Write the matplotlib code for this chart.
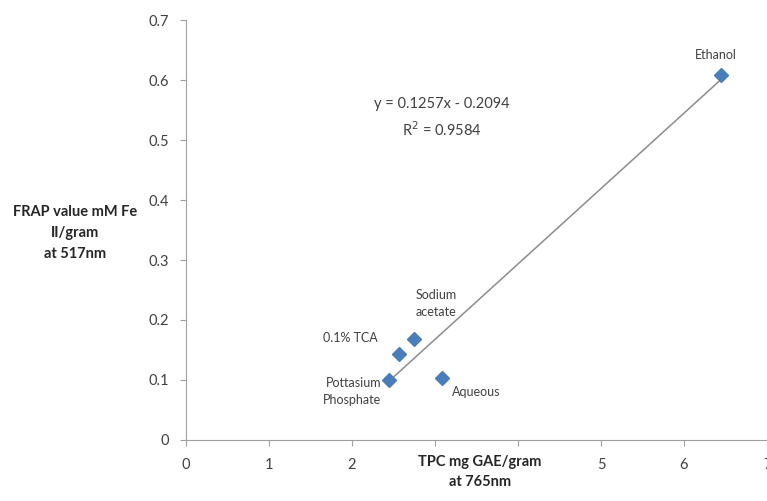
import matplotlib.pyplot as plt

# values
solvents = ['Pottasium\nPhosphate', '0.1% TCA', 'Sodium\nacetate', 'Aqueous', 'Ethanol']
tpc = [2.45, 2.57, 2.75, 3.08, 6.45]
frap = [0.100, 0.143, 0.168, 0.103, 0.608]
slope, intercept = 0.1257, -0.2094
r2 = 0.9584
# 3 and 4 sit under the axis title in the original
xtick_labels = ['0', '1', '2', '', '', '5', '6', '7']

plt.rcParams['font.family'] = ['Lato', 'DejaVu Sans']

fig = plt.figure(figsize=(7.67, 5.01), dpi=100)
ax = fig.add_axes([0.2425, 0.1218, 0.7575, 0.8382])

# trend line across the data range
xs = [min(tpc), max(tpc)]
ax.plot(xs, [slope * x + intercept for x in xs], color='#8c8c8c', linewidth=1.1, zorder=1)
ax.plot(tpc, frap, linestyle='none', marker='D', markersize=7.5, color='#4a7ebb', zorder=2)

# point labels: (offset px, ha, va)
offsets = {
    'Pottasium\nPhosphate': ((-8, -12), 'right', 'center'),
    '0.1% TCA': ((-22, 16), 'right', 'center'),
    'Sodium\nacetate': ((22, 36), 'center', 'center'),
    'Aqueous': ((10, -14), 'left', 'center'),
    'Ethanol': ((-6, 20), 'center', 'center'),
}
for name, x, y in zip(solvents, tpc, frap):
    (dx, dy), ha, va = offsets[name]
    ax.annotate(name, (x, y), xytext=(dx, dy), textcoords='offset pixels',
                ha=ha, va=va, fontsize=9, color='#404040', linespacing=1.5)

ax.text(3.08, 0.56, 'y = %.4fx - %.4f' % (slope, -intercept), ha='center', va='center',
        fontsize=10.5, color='#404040')
ax.text(3.08, 0.517, 'R$^2$ = %.4f' % r2, ha='center', va='center', fontsize=10.5, color='#404040')

ax.set_xlim(0, 7)
ax.set_ylim(0, 0.7)
ax.set_xticks(range(0, 8))
ax.set_xticklabels(xtick_labels)
ax.set_yticks([0, 0.1, 0.2, 0.3, 0.4, 0.5, 0.6, 0.7])
ax.set_yticklabels(['0', '0.1', '0.2', '0.3', '0.4', '0.5', '0.6', '0.7'])

for s in ['top', 'right']:
    ax.spines[s].set_visible(False)
for s in ['left', 'bottom']:
    ax.spines[s].set_color('#a0a0a0')
ax.tick_params(colors='#404040', labelsize=10.5, length=4, color='#a0a0a0', pad=8)
ax.tick_params(axis='x', pad=9)

# axis titles
ax.text(0.506, -0.035, 'TPC mg GAE/gram\nat 765nm', transform=ax.transAxes, ha='center', va='top',
        fontsize=10.5, fontweight='bold', color='#262626', linespacing=1.6)
fig.text(75 / 767, 1 - 233 / 501, 'FRAP value mM Fe\nII/gram\nat 517nm', ha='center', va='center',
         fontsize=10.5, fontweight='bold', color='#262626', linespacing=1.6)

fig.savefig('out.png', dpi=100)
